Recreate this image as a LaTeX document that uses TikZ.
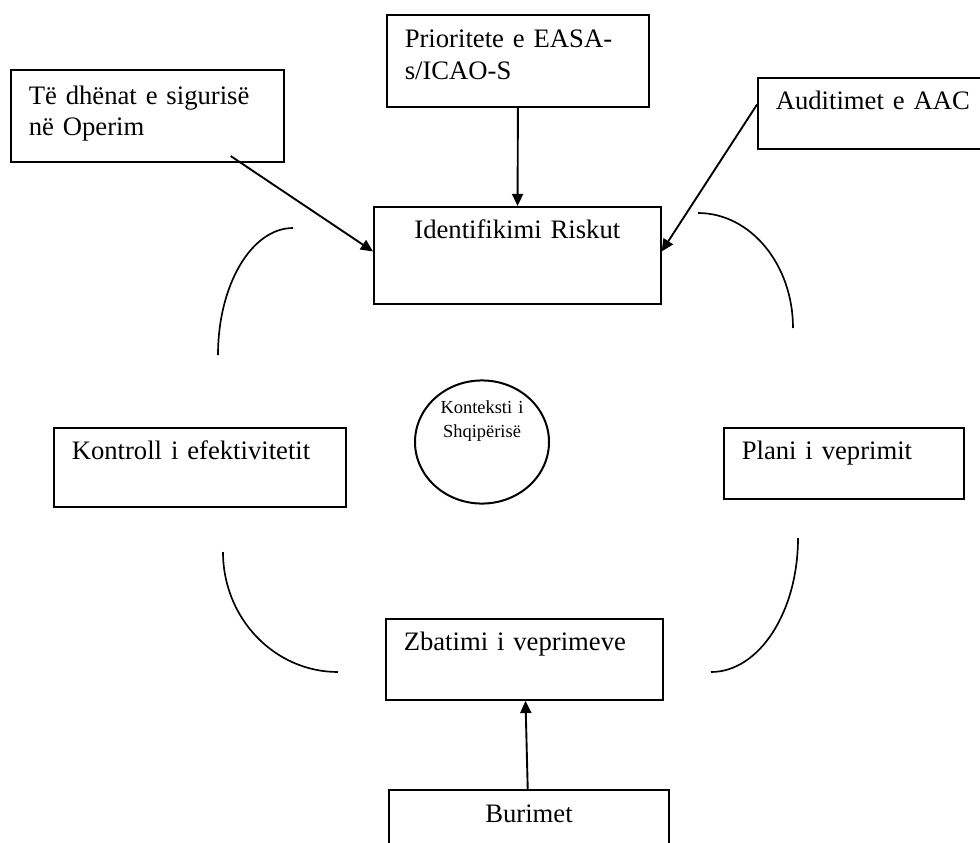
\documentclass[tikz,border=0pt]{standalone}
\usepackage{fontspec}
\setmainfont{Liberation Serif}
\usetikzlibrary{arrows.meta, shapes.geometric}

\begin{document}
\begin{tikzpicture}[
    % GLOBAL CFG
    x=0.45pt, y=-0.45pt,
    font=\fontsize{12}{14}\selectfont,
    % Styles
    box/.style={% For text boxes, placed by their top left corner
        rectangle,
        draw,
        line width=0.9pt,
        anchor=north west,
        align=left,
        inner xsep=8pt,
        inner ysep=0pt,
        text height=14pt,
    },
    context/.style={% For the ellipse in the middle
        ellipse,
        draw,
        line width=0.9pt,
        inner sep=0pt,
        minimum width=60.3pt,
        minimum height=55.4pt,
        text width=40pt,
        align=center,
        text height=6pt,
        text depth=32.1pt,
        font=\fontsize{8.3}{11}\selectfont,
    },
    arrow/.style={% Arrows between boxes
        -{Triangle[length=5.5pt, width=5pt]},
        line width=0.85pt,
    },
    cyclearc/.style={% Open arcs round the middle
        line width=0.75pt,
    },
    ]

    \useasboundingbox (0,0) rectangle (980,843);

    % Draw
    % Inputs on top
    \node [box, text width=107pt, text height=15.3pt, text depth=26.1pt] (data) at (10,69) {Të dhënat e sigurisë\\ në Operim};
    \node [box, text width=102pt, text height=14.8pt, text depth=26.6pt] (prio) at (386,14) {Prioritete e EASA-\\ s/ICAO-S};
    \node [box, text width=89pt, text depth=18pt] (audit) at (757,77) {Auditimet e AAC};

    % Steps of the cycle
    \node [box, align=center, text width=113pt, text depth=29.6pt] (risk) at (373,206) {Identifikimi Riskut};
    \node [box, text width=92pt, text depth=18pt] (plan) at (723,427) {Plani i veprimit};
    \node [box, text width=108.6pt, text depth=22.4pt] (zbat) at (385,618) {Zbatimi i veprimeve};
    \node [box, text width=115.4pt, text depth=21.5pt] (ctrl) at (53,427) {Kontroll i efektivitetit};

    % Middle and bottom
    \node [context] (ctx) at (482,442) {Konteksti i\\ Shqipërisë};
    \node [box, align=center, text width=110pt, text height=14.4pt, text depth=30pt] (burim) at (388,789) {Burimet};

    % Connect all
    \draw [arrow] ([shift={(83,-7)}]data.south) -- ([shift={(0,-4)}]risk.west);
    \draw [arrow] (prio) -- (risk);
    \draw [arrow] ([shift={(0,-9)}]audit.west) -- ([shift={(0,-4)}]risk.east);
    \draw [arrow] (burim) -- (zbat);

    % Arcs
    \draw [cyclearc] (293,228) arc [start angle=90, end angle=180, x radius=33.75pt, y radius=57.15pt];
    \draw [cyclearc] (698,213) arc [start angle=90, end angle=0, x radius=42.75pt, y radius=51.75pt];
    \draw [cyclearc] (798,538) arc [start angle=0, end angle=-90, x radius=39.15pt, y radius=60.3pt];
    \draw [cyclearc] (223,552) arc [start angle=180, end angle=270, x radius=51.75pt, y radius=54pt];

\end{tikzpicture}
\end{document}
